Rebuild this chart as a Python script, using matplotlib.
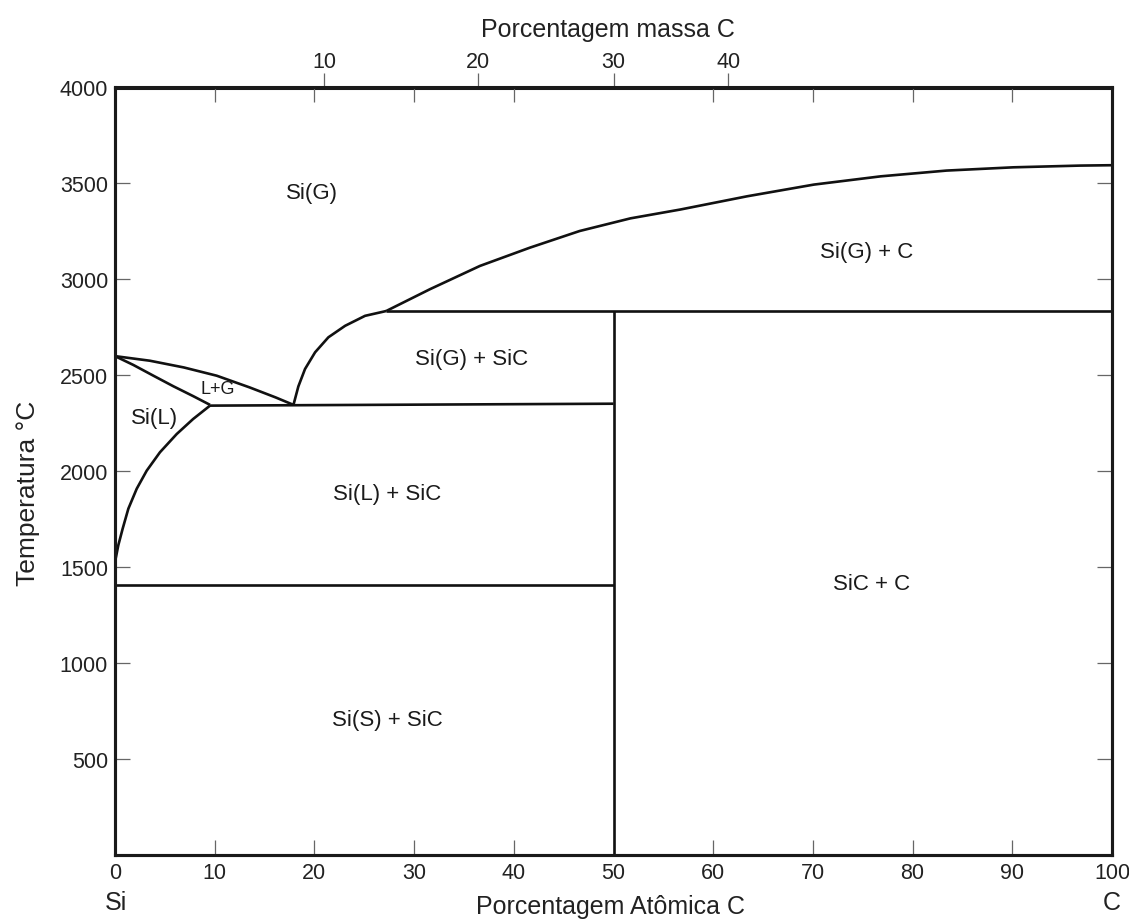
import matplotlib
matplotlib.use("Agg")
import matplotlib.pyplot as plt

plt.rcParams['font.family'] = ['Liberation Sans', 'DejaVu Sans']

# ---- data (atomic % C, temperature °C) ----
liq_x = [0.0, 0.07, 0.33, 0.77, 1.34, 2.18, 3.18, 4.51, 6.19, 7.83, 9.53]
liq_t = [1410, 1545, 1614, 1701, 1805, 1909, 2003, 2099, 2194, 2272, 2342]

lg_low_x = [0.0, 1.84, 3.85, 5.85, 7.86, 9.53]
lg_low_t = [2600, 2554, 2498, 2443, 2391, 2346]

lg_up_x = [0.0, 3.5, 6.9, 10.2, 13.5, 16.1, 17.9]
lg_up_t = [2600, 2576, 2541, 2498, 2437, 2385, 2346]

gas_low_x = [17.9, 18.39, 19.06, 20.07, 21.4, 23.08, 25.08, 27.2]
gas_low_t = [2346, 2442, 2533, 2620, 2698, 2758, 2810, 2835]

gas_up_x = [27.2, 31.6, 36.6, 41.6, 46.6, 51.7, 56.7, 63.4, 70.1, 76.8, 83.4, 90.1, 96.8, 100.0]
gas_up_t = [2835, 2949, 3070, 3165, 3252, 3318, 3364, 3433, 3494, 3537, 3567, 3584, 3593, 3595]

eut_x = [9.53, 50.0]
eut_t = [2342, 2352]
top_iso_x = [27.2, 100.0]
top_iso_t = [2835, 2835]
sic_x = [50.0, 50.0]
sic_t = [0, 2835]
melt_x = [0.0, 50.0]
melt_t = [1405, 1405]

region_labels = ["Si(G)", "Si(G) + C", "Si(G) + SiC", "Si(L)", "Si(L) + SiC", "SiC + C", "Si(S) + SiC"]
region_x = [19.8, 75.4, 35.8, 4.0, 27.3, 75.9, 27.3]
region_t = [3453, 3146, 2590, 2278, 1883, 1415, 708]

lg_label = "L+G"
lg_label_x, lg_label_t = 10.3, 2429

x_ticks = [0, 10, 20, 30, 40, 50, 60, 70, 80, 90, 100]
y_ticks = [500, 1000, 1500, 2000, 2500, 3000, 3500, 4000]
mass_labels = ["10", "20", "30", "40"]
mass_pos = [21.0, 36.4, 50.0, 61.5]

# ---- figure ----
W, H = 1129, 920
fig = plt.figure(figsize=(W / 100, H / 100), dpi=100)
ax = fig.add_axes([115 / W, 1 - 856 / H, (1112 - 115) / W, (856 - 88.5) / H])
ax.set_xlim(0, 100)
ax.set_ylim(0, 4000)

lw = 1.9
for xs, ts in [(liq_x, liq_t), (lg_low_x, lg_low_t), (lg_up_x, lg_up_t),
               (gas_low_x, gas_low_t), (gas_up_x, gas_up_t), (eut_x, eut_t),
               (top_iso_x, top_iso_t), (sic_x, sic_t), (melt_x, melt_t)]:
    ax.plot(xs, ts, color='#111111', lw=lw, solid_capstyle='butt', solid_joinstyle='round')

for lab, x, t in zip(region_labels, region_x, region_t):
    ax.text(x, t, lab, ha='center', va='center', fontsize=16, color='#1a1a1a')
ax.text(lg_label_x, lg_label_t, lg_label, ha='center', va='center', fontsize=13, color='#1a1a1a')

tick_col = '#666666'
ax.set_xticks(x_ticks)
ax.set_xticklabels([str(v) for v in x_ticks])
ax.set_yticks(y_ticks)
ax.set_yticklabels([str(v) for v in y_ticks])
ax.tick_params(axis='x', direction='in', length=11, width=0.9, color=tick_col,
               labelsize=15.5, pad=5, labelcolor='#222222', top=False)
ax.tick_params(axis='y', direction='in', length=11, width=0.9, color=tick_col,
               labelsize=15.5, pad=5, labelcolor='#222222', left=True, right=True)

for sp in ax.spines.values():
    sp.set_linewidth(2.2)
    sp.set_color('#1a1a1a')

ax2 = ax.twiny()
ax2.set_xlim(0, 100)
ax2.set_xticks(mass_pos)
ax2.set_xticklabels(mass_labels)
ax2.set_xticks(x_ticks[1:-1], minor=True)
ax2.tick_params(axis='x', which='major', direction='out', length=10, width=0.9,
                color=tick_col, labelsize=15.5, pad=1, labelcolor='#222222')
ax2.tick_params(axis='x', which='minor', direction='in', length=11, width=0.9,
                color=tick_col)
for sp in ax2.spines.values():
    sp.set_linewidth(2.2)
    sp.set_color('#1a1a1a')

# axis titles
fig.text(116 / W, 1 - 903 / H, "Si", ha='center', va='center', fontsize=18, color='#222222')
fig.text(1112 / W, 1 - 903 / H, "C", ha='center', va='center', fontsize=18, color='#222222')
fig.text(611 / W, 1 - 907 / H, "Porcentagem Atômica C", ha='center', va='center',
         fontsize=18, color='#222222')
fig.text(608 / W, 1 - 30 / H, "Porcentagem massa C", ha='center', va='center',
         fontsize=18, color='#222222')
fig.text(28 / W, 1 - 493 / H, "Temperatura °C", ha='center', va='center',
         rotation=90, fontsize=19, color='#222222')

fig.savefig("out.png", dpi=100)
